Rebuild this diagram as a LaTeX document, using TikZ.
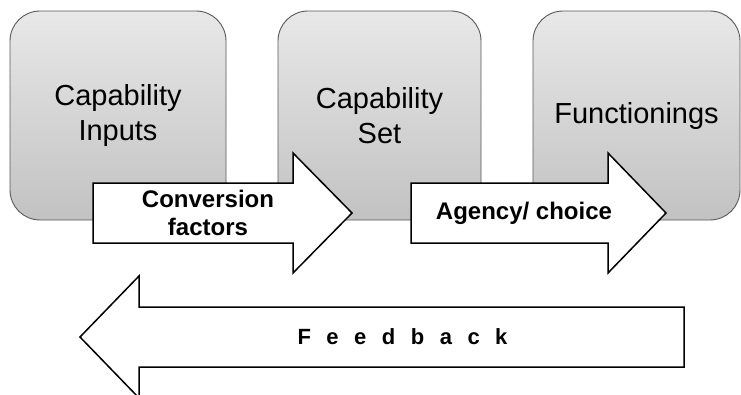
\documentclass[tikz,border=0pt]{standalone}
\usepackage{fontspec}
\setmainfont{Liberation Sans}
\begin{document}
\begin{tikzpicture}[x=1pt,y=-1pt,
  capbox/.style={draw=black!65, line width=0.9pt, rounded corners=30pt,
    top color=black!9, bottom color=black!24, inner sep=0pt,
    align=center, font=\fontsize{29}{35}\selectfont},
  fatarrow/.style={draw=black, fill=white, line width=1.5pt, line join=miter},
  arrowtext/.style={align=center, inner sep=0pt, font=\fontsize{24}{28}\bfseries\selectfont}]
\useasboundingbox (0,0) rectangle (741,394);
\fill[white] (0,0) rectangle (741,394);
% boxes
\node[capbox, minimum width=216pt, minimum height=209pt] (inputs) at (118,115.5) {Capability\\Inputs};
\node[capbox, minimum width=203pt, minimum height=209pt] (set) at (379.5,115.5) {Capability\\Set};
\node[capbox, minimum width=207pt, minimum height=209pt] (func) at (636.5,115.5) {Functionings};
% arrow 1
\draw[fatarrow] (93,183) -- (293,183) -- (293,153) -- (352,213) -- (293,273) -- (293,243) -- (93,243) -- cycle;
\node[arrowtext] (conv) at (208,213) {Conversion\\factors};
% arrow 2
\draw[fatarrow] (411,183) -- (608,183) -- (608,153) -- (666,213) -- (608,273) -- (608,243) -- (411,243) -- cycle;
\node[arrowtext] (agency) at (524,213) {Agency/ choice};
% feedback arrow
\draw[fatarrow] (684,307) -- (139,307) -- (139,276) -- (80,337) -- (139,398) -- (139,367) -- (684,367) -- cycle;
\node[inner sep=0pt, font=\fontsize{22}{26}\bfseries\selectfont] (feedback) at (402.5,337) {\spaceskip=15.5pt F e e d b a c k};
\end{tikzpicture}
\end{document}
